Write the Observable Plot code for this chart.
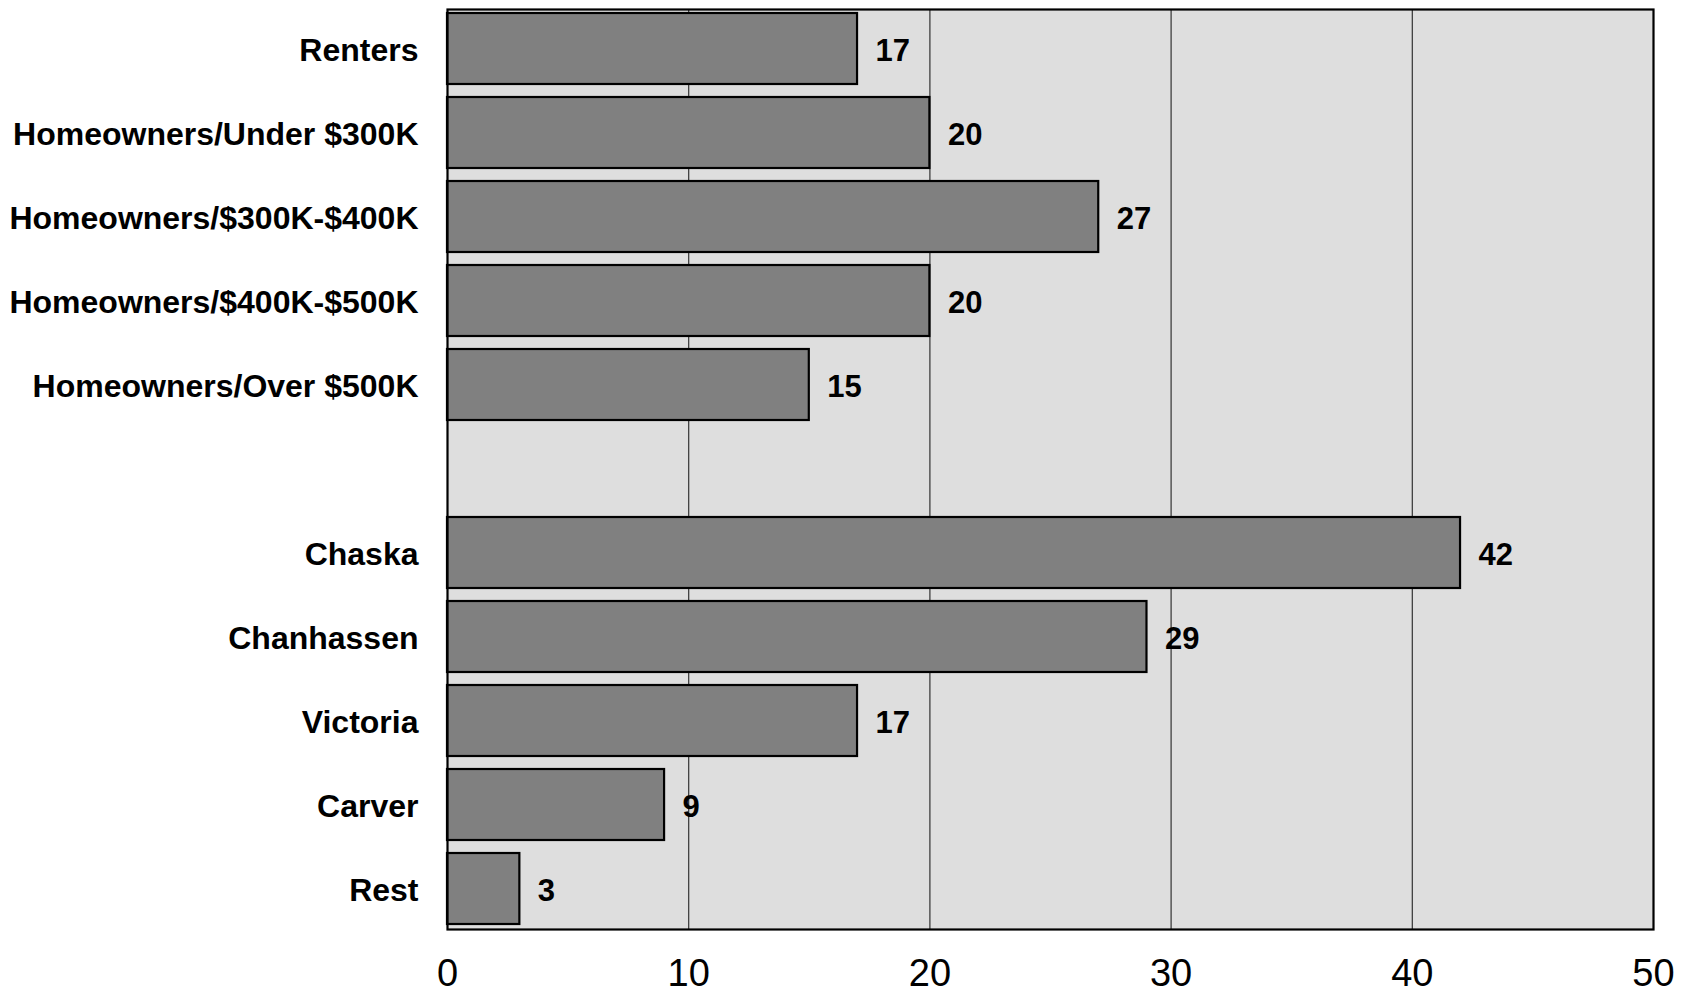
<!DOCTYPE html>
<html>
<head>
<meta charset="utf-8">
<script src="https://cdn.jsdelivr.net/npm/d3@7"></script>
<script src="https://cdn.jsdelivr.net/npm/@observablehq/plot@0.6"></script>
<style>
  html, body { margin: 0; padding: 0; background: #ffffff; }
  #chart svg { display: block; }
</style>
</head>
<body>
<div id="chart"></div>
<script>
// Data
const groupA = ["Renters", "Homeowners/Under $300K", "Homeowners/$300K-$400K", "Homeowners/$400K-$500K", "Homeowners/Over $500K"];
const valuesA = [17, 20, 27, 20, 15];
const groupB = ["Chaska", "Chanhassen", "Victoria", "Carver", "Rest"];
const valuesB = [42, 29, 17, 9, 3];
const xTicks = [0, 10, 20, 30, 40, 50];

const data = [
  ...groupA.map((c, i) => ({category: c, value: valuesA[i]})),
  ...groupB.map((c, i) => ({category: c, value: valuesB[i]}))
];
const yDomain = [...groupA, "", ...groupB];

const chart = Plot.plot({
  width: 1696,
  height: 995,
  marginLeft: 447,
  marginRight: 43,
  marginTop: 9,
  marginBottom: 66,
  style: {fontFamily: "'Liberation Sans', Arial, sans-serif", color: "black", background: "white"},
  x: {domain: [0, 50], ticks: xTicks},
  y: {domain: yDomain, paddingInner: 0.15, paddingOuter: 0.05},
  marks: [
    Plot.frame({fill: "#dedede", stroke: null}),
    Plot.gridX(xTicks.slice(1, -1), {stroke: "#333333", strokeOpacity: 1, strokeWidth: 1.2}),
    Plot.barX(data, {x: "value", y: "category", fill: "#808080", stroke: "black", strokeWidth: 2.2}),
    Plot.text(data, {x: "value", y: "category", text: d => String(d.value), textAnchor: "start", dx: 18, dy: 2, fontSize: 31, fontWeight: "bold", fill: "black"}),
    Plot.frame({stroke: "black", strokeWidth: 2.2}),
    Plot.axisX({ticks: xTicks, tickSize: 0, tickPadding: 30, fontSize: 38, label: null, tickFormat: d => String(d)}),
    Plot.axisY({tickSize: 0, tickPadding: 29, dy: 2, fontSize: 32, fontWeight: "bold", label: null})
  ]
});
document.getElementById("chart").appendChild(chart);
</script>
</body>
</html>
